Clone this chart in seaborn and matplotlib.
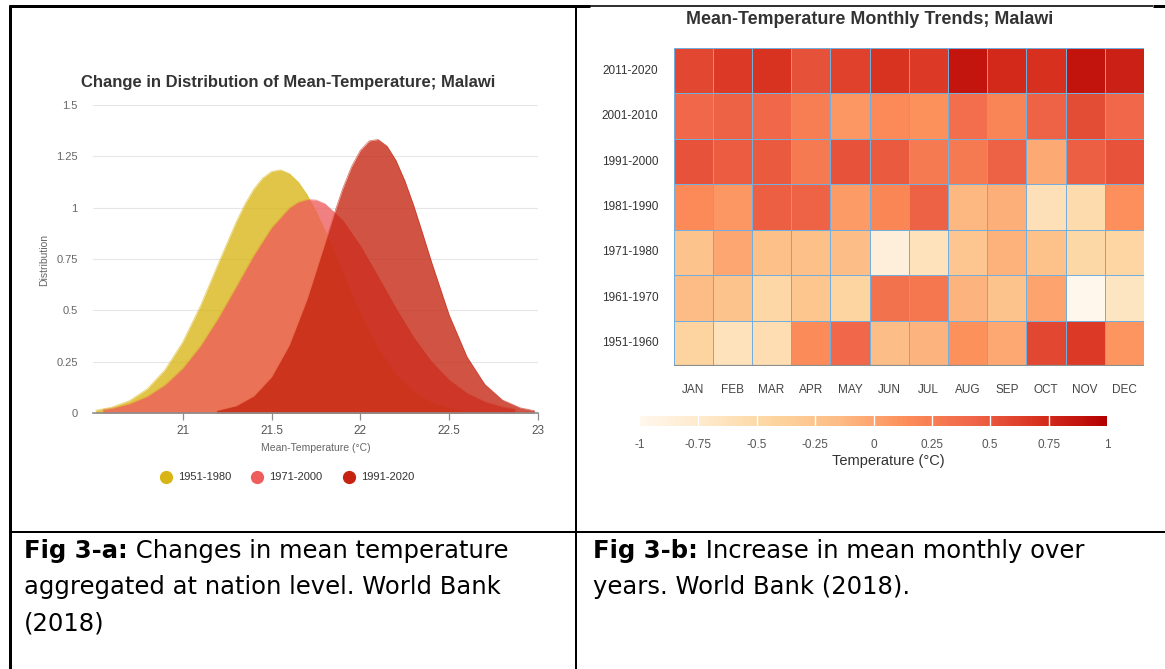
import numpy as np
import pandas as pd
import matplotlib
matplotlib.use("Agg")
import matplotlib.pyplot as plt
import seaborn as sns
from matplotlib.colors import LinearSegmentedColormap
from matplotlib.lines import Line2D

# ---------------- data: distribution curves ----------------
periods = ["1951-1980", "1971-2000", "1991-2020"]

temp_1951_1980 = [20.51, 20.6, 20.7, 20.8, 20.9, 21.0, 21.1, 21.2, 21.3, 21.35, 21.4, 21.45,
                  21.5, 21.55, 21.6, 21.65, 21.7, 21.75, 21.8, 21.9, 22.0, 22.1, 22.2, 22.3,
                  22.4, 22.5, 22.57]
dens_1951_1980 = [0.013, 0.028, 0.060, 0.117, 0.210, 0.345, 0.522, 0.727, 0.928, 1.017, 1.090, 1.144,
                  1.176, 1.184, 1.166, 1.125, 1.063, 0.983, 0.890, 0.685, 0.484, 0.315, 0.188, 0.103,
                  0.052, 0.024, 0.013]

temp_1971_2000 = [20.55, 20.6, 20.7, 20.8, 20.9, 21.0, 21.1, 21.2, 21.3, 21.4, 21.5, 21.6,
                  21.65, 21.7, 21.75, 21.8, 21.9, 22.0, 22.1, 22.2, 22.3, 22.4, 22.5, 22.6,
                  22.7, 22.8, 22.87]
dens_1971_2000 = [0.017, 0.023, 0.045, 0.081, 0.137, 0.218, 0.327, 0.462, 0.614, 0.768, 0.903, 0.999,
                  1.027, 1.040, 1.037, 1.019, 0.939, 0.814, 0.664, 0.510, 0.368, 0.250, 0.160, 0.096,
                  0.054, 0.029, 0.018]

temp_1991_2020 = [21.19, 21.3, 21.4, 21.5, 21.6, 21.7, 21.8, 21.85, 21.9, 21.95, 22.0, 22.05,
                  22.1, 22.15, 22.2, 22.25, 22.3, 22.35, 22.4, 22.5, 22.6, 22.7, 22.8, 22.9, 22.98]
dens_1991_2020 = [0.012, 0.035, 0.083, 0.176, 0.331, 0.555, 0.826, 0.963, 1.091, 1.199, 1.279, 1.325,
                  1.332, 1.300, 1.231, 1.132, 1.011, 0.876, 0.737, 0.477, 0.274, 0.140, 0.063, 0.025, 0.011]

x_ticks = [21, 21.5, 22, 22.5, 23]
x_tick_labels = ["21", "21.5", "22", "22.5", "23"]
y_ticks = [0, 0.25, 0.5, 0.75, 1, 1.25, 1.5]
y_tick_labels = ["0", "0.25", "0.5", "0.75", "1", "1.25", "1.5"]

# ---------------- data: monthly anomaly heatmap ----------------
months = ["JAN", "FEB", "MAR", "APR", "MAY", "JUN", "JUL", "AUG", "SEP", "OCT", "NOV", "DEC"]
decades = ["2011-2020", "2001-2010", "1991-2000", "1981-1990", "1971-1980", "1961-1970", "1951-1960"]
anom_2011_2020 = [0.58, 0.65, 0.70, 0.53, 0.62, 0.70, 0.65, 0.86, 0.75, 0.71, 0.88, 0.80]
anom_2001_2010 = [0.40, 0.45, 0.41, 0.25, 0.08, 0.16, 0.12, 0.36, 0.20, 0.44, 0.56, 0.42]
anom_1991_2000 = [0.52, 0.47, 0.48, 0.28, 0.52, 0.48, 0.28, 0.28, 0.45, -0.03, 0.46, 0.52]
anom_1981_1990 = [0.17, 0.08, 0.46, 0.44, 0.06, 0.19, 0.45, -0.12, -0.07, -0.60, -0.52, 0.13]
anom_1971_1980 = [-0.22, -0.01, -0.20, -0.20, -0.16, -0.85, -0.63, -0.27, -0.08, -0.21, -0.48, -0.46]
anom_1961_1970 = [-0.15, -0.24, -0.47, -0.26, -0.44, 0.33, 0.30, -0.09, -0.22, 0.00, -0.98, -0.66]
anom_1951_1960 = [-0.43, -0.62, -0.56, 0.15, 0.41, -0.16, -0.09, 0.12, -0.02, 0.58, 0.65, 0.09]
cbar_ticks = [-1, -0.75, -0.5, -0.25, 0, 0.25, 0.5, 0.75, 1]
cbar_tick_labels = ["-1", "-0.75", "-0.5", "-0.25", "0", "0.25", "0.5", "0.75", "1"]

captions_a = ["Fig 3-a:", " Changes in mean temperature", "aggregated at nation level. World Bank", "(2018)"]
captions_b = ["Fig 3-b:", " Increase in mean monthly over", "years. World Bank (2018)."]

# ---------------- figure ----------------
sns.set_theme(style="white")
plt.rcParams["font.family"] = ["Liberation Sans", "DejaVu Sans"]

W, H = 1165, 669
fig = plt.figure(figsize=(W / 100, H / 100), dpi=100)
fig.patch.set_facecolor("white")


def fx(x):
    return x / W


def fy(y):
    return 1 - y / H


def rect(x0, y0, x1, y1):
    return [fx(x0), fy(y1), fx(x1) - fx(x0), fy(y0) - fy(y1)]


# table lines
def hline(y, x0, x1, lw):
    fig.add_artist(Line2D([fx(x0), fx(x1)], [fy(y), fy(y)], color="black", lw=lw * 0.72,
                          transform=fig.transFigure, solid_capstyle="butt"))


def vline(x, y0, y1, lw):
    fig.add_artist(Line2D([fx(x), fx(x)], [fy(y0), fy(y1)], color="black", lw=lw * 0.72,
                          transform=fig.transFigure, solid_capstyle="butt"))


hline(6, 8.5, 590, 3)
hline(6, 590, 1153, 1.6)
hline(6, 1153, 1165, 3)
vline(10, 4.5, 669, 3)
vline(576, 6, 669, 2)
hline(532, 9, 1165, 2)

# ---------------- left: distribution chart ----------------
colors = {"1951-1980": "#d8b515", "1971-2000": "#ee5c5c", "1991-2020": "#c5230f"}
dist = pd.concat([
    pd.DataFrame({"temp": temp_1951_1980, "dens": dens_1951_1980, "period": periods[0]}),
    pd.DataFrame({"temp": temp_1971_2000, "dens": dens_1971_2000, "period": periods[1]}),
    pd.DataFrame({"temp": temp_1991_2020, "dens": dens_1991_2020, "period": periods[2]}),
], ignore_index=True)

ax = fig.add_axes(rect(93, 105, 538, 413))
for y in y_ticks[1:]:
    ax.axhline(y, color="#e6e6e6", lw=0.8, zorder=0)
sns.lineplot(data=dist, x="temp", y="dens", hue="period", palette=colors, ax=ax,
             legend=False, lw=0.6, alpha=0.6, estimator=None, sort=False, zorder=1)
for i, p in enumerate(periods):
    d = dist[dist.period == p]
    ax.fill_between(d.temp, 0, d.dens, color=colors[p], alpha=0.78, lw=0, zorder=2 + i)
ax.set_xlim(20.495, 23.0)
ax.set_ylim(0, 1.5)
ax.set_xticks(x_ticks)
ax.set_xticklabels(x_tick_labels)
ax.set_yticks(y_ticks)
ax.set_yticklabels(y_tick_labels)
for s in ["top", "right", "left"]:
    ax.spines[s].set_visible(False)
ax.spines["bottom"].set_color("#8c8c8c")
ax.spines["bottom"].set_linewidth(1.2)
ax.spines["bottom"].set_zorder(6)
ax.tick_params(axis="x", length=5, width=0.9, color="#8c8c8c", colors="#555555",
               labelsize=8.5, pad=4, bottom=True, direction="out")
ax.tick_params(axis="y", length=0, colors="#666666", labelsize=8, pad=11)
ax.set_xlabel("")
ax.set_ylabel("")
ax.set_facecolor("none")

fig.text(fx(288), fy(82), "Change in Distribution of Mean-Temperature; Malawi", ha="center",
         va="center", fontsize=12, fontweight="bold", color="#333333")
fig.text(fx(44), fy(260), "Distribution", rotation=90, ha="center", va="center",
         fontsize=7.5, color="#666666")
fig.text(fx(316), fy(448), "Mean-Temperature (°C)", ha="center", va="center",
         fontsize=7.5, color="#666666")
leg_x = [166, 257, 349]
for p, lx in zip(periods, leg_x):
    fig.add_artist(Line2D([fx(lx)], [fy(477)], marker="o", ms=8.5, color=colors[p], lw=0,
                          transform=fig.transFigure))
    fig.text(fx(lx + 12), fy(477), p, ha="left", va="center", fontsize=8, color="#333333")

# ---------------- right: heatmap ----------------
heat = pd.DataFrame([anom_2011_2020, anom_2001_2010, anom_1991_2000, anom_1981_1990,
                     anom_1971_1980, anom_1961_1970, anom_1951_1960],
                    index=decades, columns=months)
base = plt.get_cmap("OrRd")
cmap = LinearSegmentedColormap.from_list("orrd_cut", base(np.linspace(0, 0.875, 256)))

hax = fig.add_axes(rect(673.5, 48, 1144, 366))
cax = fig.add_axes(rect(640, 416, 1107, 426))
sns.heatmap(heat, ax=hax, cmap=cmap, vmin=-1, vmax=1, linewidths=0.6, linecolor="#74aede",
            cbar_ax=cax, cbar_kws={"orientation": "horizontal", "ticks": cbar_ticks})
hax.set_xlabel("")
hax.set_ylabel("")
hax.tick_params(axis="both", length=0)
hax.tick_params(axis="x", pad=13, labelsize=8.5, colors="#444444", labelrotation=0)
hax.tick_params(axis="y", pad=11, labelsize=8.5, colors="#333333", labelrotation=0)
hax.axhline(len(decades), color="#8f8f8f", lw=1.6)

cbar = hax.collections[0].colorbar
cbar.outline.set_visible(False)
cax.set_xticks(cbar_ticks)
cax.set_xticklabels(cbar_tick_labels)
cax.tick_params(length=0, pad=9, labelsize=8.5, colors="#555555")
for t in cbar_ticks[1:-1]:
    cax.axvline(t, color="white", lw=1.0)

fig.text(fx(870), fy(20), "Mean-Temperature Monthly Trends; Malawi", ha="center", va="center",
         fontsize=12.9, fontweight="bold", color="#333333")
fig.text(fx(888), fy(461), "Temperature (°C)", ha="center", va="center", fontsize=10.5,
         color="#333333")

# ---------------- captions ----------------
renderer = fig.canvas.get_renderer()
cap_fs = 17.5
cap_font = ["DejaVu Sans"]


def caption(x, lines):
    t = fig.text(fx(x), fy(551), lines[0], ha="left", va="center", fontsize=cap_fs,
                 fontweight="bold", family=cap_font, color="black")
    bb = t.get_window_extent(renderer)
    fig.text(bb.x1 / W, fy(551), lines[1], ha="left", va="center", fontsize=cap_fs,
             family=cap_font, color="black")
    for i, ln in enumerate(lines[2:]):
        fig.text(fx(x), fy(551 + 36 * (i + 1)), ln, ha="left", va="center", fontsize=cap_fs,
                 family=cap_font, color="black")


caption(24, captions_a)
caption(593, captions_b)

fig.savefig("out.png", dpi=100, facecolor="white")
